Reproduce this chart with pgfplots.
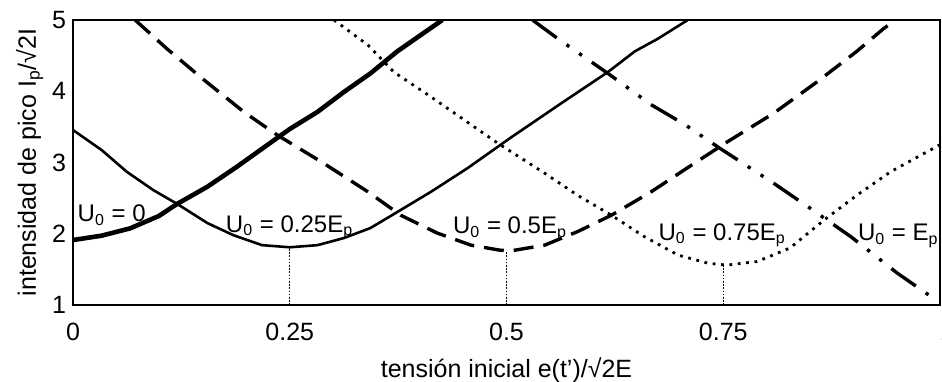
\documentclass[border=0pt]{standalone}
\usepackage{fontspec}
\setmainfont{Liberation Sans}
\usepackage{pgfplots}
\pgfplotsset{compat=1.18}
\begin{document}
\begin{tikzpicture}
\begin{axis}[
 at={(0,0)}, anchor=south west,
 scale only axis, width=433.5pt, height=142.5pt,
 xmin=0, xmax=1, ymin=1, ymax=5,
 xtick={0,0.25,0.5,0.75,1}, xticklabels={0,0.25,0.5,0.75,\makebox[0pt][l]{1}},
 ytick={1,2,3,4,5}, yticklabels={1,2,3,4,5},
 major tick length=0pt,
 axis line style={line width=0.8pt},
 tick label style={font=\fontsize{12.5}{14}\selectfont},
 label style={font=\fontsize{12.5}{14}\selectfont},
 /pgf/number format/assume math mode=true,
 xticklabel style={anchor=base, yshift=-17.5pt},
 xlabel={tensión inicial e(t’)/√2E},
 ylabel={intensidad de pico I\textsubscript{p}/√2I},
 xlabel style={at={(axis description cs:0.5,-0.227)}, anchor=center},
 ylabel style={at={(axis description cs:-0.05,0.5)}, anchor=center},
]
% U0 = 0 (thick solid)
\addplot[black, line width=2.3pt] coordinates {
(0,1.912) (0.033,1.973) (0.066,2.076) (0.099,2.249) (0.12,2.418) (0.155,2.66) (0.189,2.94) (0.22,3.21) (0.25,3.47) (0.282,3.71) (0.3125,3.99) (0.343,4.25) (0.374,4.56) (0.426,5.0)};
% U0 = 0.25Ep (thin solid)
\addplot[black, line width=1.3pt] coordinates {
(0,3.456) (0.033,3.175) (0.062,2.87) (0.093,2.61) (0.12,2.42) (0.155,2.15) (0.185,1.98) (0.218,1.84) (0.25,1.81) (0.282,1.84) (0.3125,1.94) (0.343,2.08) (0.372,2.29) (0.413,2.59) (0.455,2.92) (0.505,3.35) (0.563,3.83) (0.617,4.27) (0.648,4.56) (0.675,4.74) (0.709,5.0)};
% U0 = 0.5Ep (dashed)
\addplot[black, line width=1.7pt, dash pattern=on 10pt off 5pt] coordinates {
(0.0717,5.0) (0.108,4.60) (0.151,4.16) (0.197,3.71) (0.235,3.39) (0.289,2.99) (0.34,2.59) (0.378,2.26) (0.42,2.01) (0.459,1.84) (0.492,1.77) (0.505,1.76) (0.544,1.84) (0.582,2.03) (0.621,2.26) (0.667,2.59) (0.713,2.96) (0.756,3.3) (0.808,3.69) (0.858,4.13) (0.904,4.56) (0.935,4.88) (0.949,5.0)};
% U0 = 0.75Ep (dotted)
\addplot[black, line width=1.4pt, dash pattern=on 1.4pt off 2.8pt] coordinates {
(0.301,5.0) (0.34,4.65) (0.37,4.27) (0.413,3.92) (0.451,3.60) (0.49,3.27) (0.544,2.85) (0.582,2.54) (0.621,2.26) (0.659,1.96) (0.698,1.70) (0.733,1.585) (0.754,1.56) (0.789,1.61) (0.827,1.80) (0.866,2.19) (0.904,2.54) (0.943,2.87) (1.0,3.25)};
% U0 = Ep (dash-dot-dot)
\addplot[black, line width=1.7pt, dash pattern=on 15pt off 6pt on 1.7pt off 6pt on 1.7pt off 6pt] coordinates {
(0.530,5.0) (0.559,4.74) (0.617,4.25) (0.667,3.81) (0.706,3.53) (0.746,3.20) (0.808,2.71) (0.85,2.36) (0.897,1.96) (0.951,1.445) (0.993,1.09)};
% minimum markers
\addplot[black, line width=0.5pt, dash pattern=on 0.8pt off 0.8pt] coordinates {(0.25,1) (0.25,1.81)};
\addplot[black, line width=0.5pt, dash pattern=on 0.8pt off 0.8pt] coordinates {(0.5,1) (0.5,1.76)};
\addplot[black, line width=0.5pt, dash pattern=on 0.8pt off 0.8pt] coordinates {(0.75,1) (0.75,1.56)};
% labels
\begin{scope}[every node/.style={anchor=base west, inner sep=0pt, font=\fontsize{12}{14}\selectfont}]
\node at (axis cs:0.005,2.165) {U\textsubscript{0} = 0};
\node at (axis cs:0.176,2.02) {U\textsubscript{0} = 0.25E\textsubscript{p}};
\node at (axis cs:0.438,2.0) {U\textsubscript{0} = 0.5E\textsubscript{p}};
\node at (axis cs:0.675,1.91) {U\textsubscript{0} = 0.75E\textsubscript{p}};
\node at (axis cs:0.905,1.9) {U\textsubscript{0} = E\textsubscript{p}};
\end{scope}
\end{axis}
\pgfresetboundingbox
\useasboundingbox (-36.5pt,-38pt) rectangle (434.5pt,152.5pt);
\end{tikzpicture}
\end{document}
